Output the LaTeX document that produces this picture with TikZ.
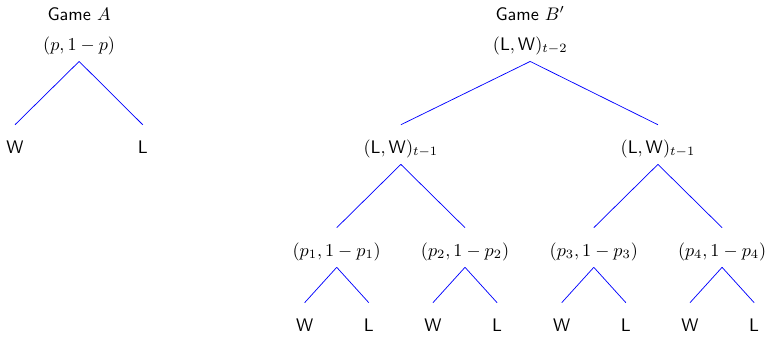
\documentclass[tikz,border=0pt]{standalone}
\usepackage{amsmath}

\begin{document}
\begin{tikzpicture}[
    title/.style={anchor=base},
    state/.style={anchor=base, inner sep=0pt, text height=15.4pt, text depth=6pt},
    branch/.style={blue},
  ]
    \useasboundingbox (0,0) rectangle (14.79,-6.50);

    % Game A
    \node[title] (titleA) at (1.53,-0.39) {\textsf{Game} $A$};
    \node[state] (a) at (1.53,-0.97) {$(p,1-p)$};
    \node[state] (aw) at (0.29,-2.96) {\textsf{W}};
    \node[state] (al) at (2.76,-2.96) {\textsf{L}};
    \draw[branch] (a.south) -- (aw.north);
    \draw[branch] (a.south) -- (al.north);

    % Game B'
    \node[title] (titleB) at (10.25,-0.39) {\textsf{Game} $B'$};
    \node[state] (b) at (10.25,-0.97) {$(\mathsf{L},\mathsf{W})_{t-2}$};
    \node[state] (b1) at (7.75,-2.96) {$(\mathsf{L},\mathsf{W})_{t-1}$};
    \node[state] (b2) at (12.72,-2.96) {$(\mathsf{L},\mathsf{W})_{t-1}$};
    \draw[branch] (b.south) -- (b1.north);
    \draw[branch] (b.south) -- (b2.north);

    % last two levels
    \foreach \i/\x/\up in {1/6.51/b1, 2/8.99/b1, 3/11.48/b2, 4/13.96/b2} {
      \node[state] (p\i) at (\x,-4.95) {$(p_{\i},1-p_{\i})$};
      \node[state] (w\i) at (\x-0.62,-6.40) {\textsf{W}};
      \node[state] (l\i) at (\x+0.62,-6.40) {\textsf{L}};
      \draw[branch] (\up.south) -- (p\i.north);
      \draw[branch] (p\i.south) -- (w\i.north);
      \draw[branch] (p\i.south) -- (l\i.north);
    }
  \end{tikzpicture}
\end{document}
